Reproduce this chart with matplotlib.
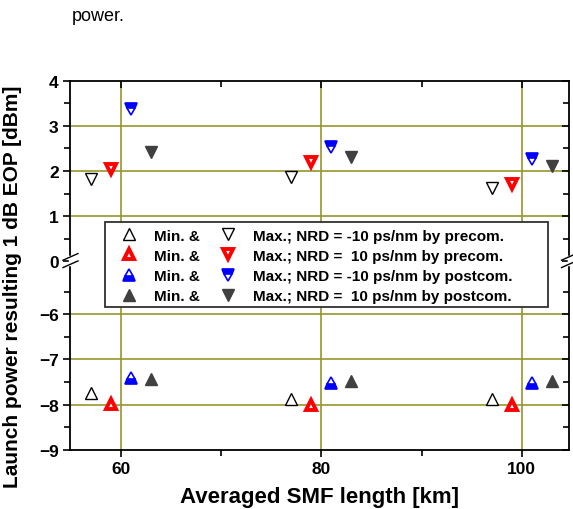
import numpy as np
import matplotlib
matplotlib.use("Agg")
from matplotlib import pyplot as plt
from matplotlib.patches import Rectangle
from matplotlib.ticker import FixedLocator

# --- data ---
smf_len = [57, 77, 97]          # km, each NRD/compensation case is offset by 2 km
offsets = [0, 2, 4, 6]

# lower-bound launch power (Min.) [dBm]
min_pre_m10 = [-7.75, -7.88, -7.88]
min_pre_p10 = [-7.98, -8.00, -8.00]
min_post_m10 = [-7.42, -7.52, -7.53]
min_post_p10 = [-7.44, -7.47, -7.47]

# upper-bound launch power (Max.) [dBm]
max_pre_m10 = [1.83, 1.87, 1.62]
max_pre_p10 = [2.04, 2.19, 1.72]
max_post_m10 = [3.38, 2.53, 2.26]
max_post_p10 = [2.41, 2.30, 2.10]

max_labels = [
    "Max.; NRD = -10 ps/nm by precom.",
    "Max.; NRD =  10 ps/nm by precom.",
    "Max.; NRD = -10 ps/nm by postcom.",
    "Max.; NRD =  10 ps/nm by postcom.",
]

y_major = [-9, -8, -7, -6, 0, 1, 2, 3, 4]
y_minor = [-8.5, -7.5, -6.5, -5.5, 0.5, 1.5, 2.5, 3.5]
y_grid = [-8, -7, -6, 1, 2, 3]
x_major = [60, 80, 100]
x_minor = [70, 90]

GAP = 4.83  # hidden part of the y axis (between -4.83 and 0)


def fwd(y):
    y = np.asarray(y, dtype=float)
    return np.where(y >= 0, y, np.where(y <= -GAP, y + GAP, 0.0))


def inv(v):
    v = np.asarray(v, dtype=float)
    return np.where(v >= 0, v, v - GAP)


plt.rcParams['font.family'] = ['Liberation Sans', 'DejaVu Sans']
plt.rcParams['font.weight'] = 'bold'

fig = plt.figure(figsize=(5.73, 5.10), dpi=100)
ax = fig.add_axes([0.123, 0.1163, 0.870, 0.7237])
fig.text(0.126, 0.967, "power.", fontsize=13, fontweight='normal',
         ha='left', va='center')

ax.set_yscale('function', functions=(fwd, inv))
ax.set_xlim(55, 104.7)
ax.set_ylim(-9, 4)

red = '#ff0000'
blue = '#0000ff'
dark = '#404040'
grid_col = '#96962d'
styles = [
    dict(mfc='white', mec='black', mew=1.0, ms=9),
    dict(mfc='white', mec=red, mew=2.8, ms=7.8),
    dict(mfc=blue, mec=blue, mew=1.2, ms=9, fillstyle='bottom', markerfacecoloralt='white'),
    dict(mfc=dark, mec=dark, mew=1.0, ms=9),
]
styles_dn = [dict(s) for s in styles]
styles_dn[2]['fillstyle'] = 'top'

mins = [min_pre_m10, min_pre_p10, min_post_m10, min_post_p10]
maxs = [max_pre_m10, max_pre_p10, max_post_m10, max_post_p10]

handles = []
labels = []
for i in range(4):
    xs = [x + offsets[i] for x in smf_len]
    h, = ax.plot(xs, mins[i], ls='none', marker='^', zorder=3, **styles[i])
    handles.append(h)
    labels.append("Min. &")
for i in range(4):
    xs = [x + offsets[i] for x in smf_len]
    h, = ax.plot(xs, maxs[i], ls='none', marker='v', zorder=3, **styles_dn[i])
    handles.append(h)
    labels.append(max_labels[i])

# axes, ticks, grid
ax.yaxis.set_major_locator(FixedLocator(y_major))
ax.yaxis.set_minor_locator(FixedLocator(y_minor))
ax.xaxis.set_major_locator(FixedLocator(x_major))
ax.xaxis.set_minor_locator(FixedLocator(x_minor))
ax.tick_params(which='both', direction='out', width=1.2, labelsize=12.5)
ax.tick_params(which='major', length=5)
ax.tick_params(which='minor', length=4)
ax.tick_params(which='both', top=True, right=True)
for t in ax.xaxis.get_major_ticks() + ax.xaxis.get_minor_ticks():
    t.tick2line.set_marker(3)
for t in ax.yaxis.get_major_ticks() + ax.yaxis.get_minor_ticks():
    t.tick2line.set_marker(0)
for sp in ax.spines.values():
    sp.set_linewidth(1.3)
ax.set_axisbelow(True)
ax.grid(True, axis='x', which='major', color=grid_col, lw=1.2)
for yg in y_grid:
    ax.axhline(yg, color=grid_col, lw=1.2, zorder=0.5)

ax.set_xlabel("Averaged SMF length [km]", fontsize=16, fontweight='bold', labelpad=7)
ax.set_ylabel("Launch power resulting 1 dB EOP [dBm]", fontsize=15, fontweight='bold')
ax.yaxis.set_label_coords(-0.097, 0.444)

# axis break marks at y = 0
y0 = ax.transAxes.inverted().transform(ax.transData.transform((60, 0)))[1]
for xa in (0.0, 1.0):
    ax.plot([xa, xa], [y0 - 0.008, y0 + 0.012], transform=ax.transAxes,
            color='white', lw=2.5, clip_on=False, zorder=6)
    for dy in (-0.008, 0.012):
        ax.plot([xa - 0.015, xa + 0.015], [y0 + dy - 0.009, y0 + dy + 0.009],
                transform=ax.transAxes, color='black', lw=1.0, clip_on=False, zorder=7)

# legend box
ax.add_patch(Rectangle((0.069, 0.3875), 0.889, 0.2285, transform=ax.transAxes,
                       facecolor='white', edgecolor='#303030', lw=1.3, zorder=4))
ax.legend(handles, labels, ncol=2, loc='upper left', bbox_to_anchor=(0.069, 0.609),
          frameon=False, borderpad=0.25, borderaxespad=0, handlelength=2.64,
          handletextpad=0.32, columnspacing=0.5, labelspacing=0.4,
          prop={'weight': 'bold', 'size': 11})

fig.savefig("out.png", dpi=100)
